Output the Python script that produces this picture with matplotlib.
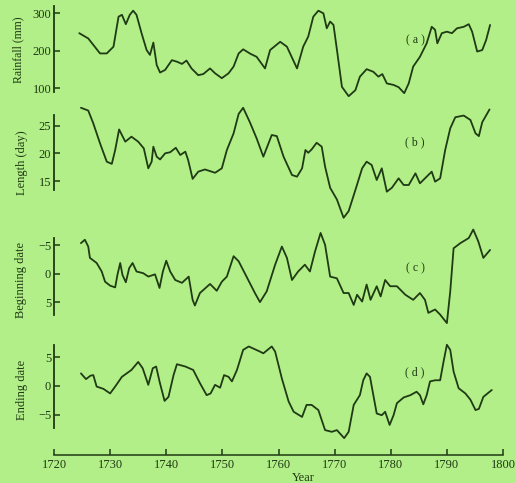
import matplotlib.pyplot as plt

bg = '#b3ef88'
ink = '#1f3a14'

# (a) rainfall, mm
rain_yr = [1724.5, 1726.1, 1728.2, 1729.4, 1730.6, 1731.5, 1732.1, 1732.8, 1733.5, 1734.1,
           1734.7, 1735.6, 1736.5, 1737.1, 1737.7, 1738.3, 1738.9, 1739.8, 1741.0, 1741.9,
           1742.8, 1743.6, 1744.5, 1745.7, 1746.6, 1747.8, 1748.7, 1749.9, 1751.1, 1752.0,
           1752.9, 1753.7, 1755.0, 1756.1, 1757.6, 1758.5, 1760.3, 1761.5, 1763.3, 1764.4,
           1765.3, 1766.2, 1767.1, 1768.0, 1768.6, 1769.2, 1769.8, 1770.5, 1771.3, 1772.5,
           1773.7, 1774.5, 1775.7, 1776.9, 1777.8, 1778.5, 1779.3, 1780.5, 1781.4, 1782.4,
           1783.2, 1784.0, 1785.2, 1786.4, 1787.3, 1787.9, 1788.3, 1789.1, 1790.0, 1790.9,
           1791.8, 1793.0, 1793.9, 1794.5, 1795.4, 1796.3, 1797.0, 1797.7]
rain = [247, 233, 193, 193, 211, 291, 296, 271, 296, 307,
        296, 247, 202, 189, 222, 162, 142, 149, 175, 171,
        165, 174, 153, 135, 138, 153, 140, 127, 140, 158,
        193, 204, 192, 184, 153, 202, 224, 211, 153, 211,
        238, 291, 307, 300, 260, 278, 269, 193, 104, 79,
        95, 131, 151, 144, 131, 138, 113, 109, 103, 87,
        113, 158, 184, 220, 264, 256, 220, 247, 251, 247,
        260, 264, 271, 251, 198, 202, 229, 269]

# (b) length of rainy season, days
len_yr = [1724.8, 1726.1, 1727.0, 1728.2, 1729.4, 1730.3, 1730.9, 1731.6, 1732.7, 1733.8,
          1735.0, 1736.0, 1736.8, 1737.4, 1737.7, 1738.3, 1738.9, 1739.8, 1740.7, 1741.7,
          1742.5, 1743.4, 1743.9, 1744.7, 1745.7, 1746.9, 1748.7, 1749.9, 1750.8, 1752.0,
          1752.9, 1753.7, 1754.9, 1756.1, 1757.3, 1758.8, 1759.7, 1760.9, 1762.4, 1763.3,
          1764.2, 1764.8, 1765.3, 1765.9, 1766.8, 1767.7, 1768.3, 1769.2, 1770.4, 1771.6,
          1772.5, 1773.7, 1774.9, 1775.7, 1776.6, 1777.5, 1778.4, 1779.3, 1780.2, 1781.4,
          1782.3, 1783.2, 1784.4, 1785.2, 1786.1, 1787.3, 1787.9, 1788.8, 1789.7, 1790.6,
          1791.5, 1793.0, 1794.2, 1795.1, 1795.7, 1796.3, 1797.6]
length = [28.2, 27.7, 25.4, 21.8, 18.5, 18.1, 20.6, 24.3, 22.1, 23.0,
          22.1, 20.9, 17.3, 18.5, 21.2, 19.4, 18.9, 20.0, 20.2, 21.0,
          19.7, 20.3, 18.8, 15.4, 16.7, 17.1, 16.5, 17.3, 20.6, 23.6,
          27.1, 28.2, 25.6, 22.7, 19.4, 23.3, 23.1, 19.4, 16.1, 15.8,
          17.3, 20.6, 20.1, 20.7, 21.9, 21.2, 17.6, 13.8, 11.7, 8.4,
          9.6, 13.4, 17.3, 18.5, 17.9, 15.2, 17.3, 13.1, 13.8, 15.5,
          14.3, 14.3, 16.4, 14.6, 15.5, 16.7, 14.9, 15.5, 20.6, 24.5,
          26.5, 26.8, 26.0, 23.6, 23.1, 25.6, 27.9]

# (c) beginning date anomaly
beg_yr = [1724.8, 1725.5, 1726.1, 1726.4, 1727.6, 1728.5, 1729.1, 1730.0, 1730.9, 1731.3,
          1731.8, 1732.2, 1732.8, 1733.4, 1734.0, 1734.7, 1735.9, 1736.8, 1738.0, 1738.8,
          1739.4, 1740.0, 1740.7, 1741.6, 1742.8, 1744.0, 1744.7, 1745.1, 1746.0, 1747.8,
          1749.0, 1749.9, 1750.8, 1752.0, 1752.9, 1754.3, 1755.8, 1756.7, 1757.9, 1759.4,
          1760.6, 1761.5, 1762.4, 1763.5, 1764.7, 1765.6, 1766.5, 1767.5, 1768.3, 1769.2,
          1770.4, 1771.6, 1772.5, 1773.4, 1774.0, 1774.9, 1775.7, 1776.4, 1777.5, 1778.2,
          1779.0, 1779.9, 1781.1, 1782.6, 1784.0, 1785.2, 1786.1, 1786.7, 1787.9, 1788.8,
          1790.0, 1790.6, 1791.2, 1792.4, 1793.9, 1794.7, 1795.6, 1796.5, 1797.7]
begin = [-5.4, -6.0, -4.8, -2.8, -1.9, -0.4, 1.4, 2.1, 2.4, 0.2,
         -1.9, 0.2, 1.5, -1.0, -1.9, -0.4, -0.1, 0.5, 0.1, 2.5,
         -0.4, -2.3, -0.4, 1.1, 1.6, 0.5, 4.6, 5.6, 3.4, 1.8,
         3.0, 1.4, 0.5, -3.1, -2.2, 0.5, 3.4, 5.0, 3.1, -1.6,
         -4.8, -2.8, 1.1, -0.4, -1.6, -0.4, -3.9, -7.2, -5.1, 0.5,
         0.8, 3.4, 3.4, 5.5, 3.7, 4.9, 1.9, 4.6, 2.2, 4.0,
         1.1, 2.2, 2.2, 3.7, 4.6, 3.4, 4.6, 6.9, 6.3, 7.2,
         8.7, 3.1, -4.5, -5.4, -6.3, -7.8, -5.7, -2.8, -4.2]

# (d) ending date anomaly
end_yr = [1724.8, 1725.7, 1726.5, 1727.0, 1727.6, 1728.8, 1730.0, 1730.9, 1732.1, 1733.8,
          1735.0, 1735.8, 1736.8, 1737.6, 1738.2, 1738.8, 1739.7, 1740.4, 1741.3, 1741.9,
          1743.4, 1744.8, 1746.0, 1747.2, 1747.9, 1748.7, 1749.6, 1750.3, 1751.1, 1751.7,
          1752.6, 1753.7, 1754.7, 1756.7, 1757.3, 1758.8, 1759.4, 1760.6, 1761.8, 1762.7,
          1764.2, 1765.0, 1765.9, 1767.1, 1768.3, 1769.5, 1770.4, 1771.7, 1772.5, 1773.4,
          1774.5, 1775.1, 1775.7, 1776.3, 1776.9, 1777.5, 1778.4, 1779.0, 1779.8, 1780.5,
          1781.1, 1782.3, 1783.5, 1784.6, 1785.2, 1785.8, 1786.4, 1787.0, 1787.9, 1788.8,
          1789.4, 1790.0, 1790.6, 1791.2, 1792.1, 1793.3, 1794.2, 1795.1, 1795.7, 1796.5,
          1798.0]
ending = [2.2, 1.2, 1.8, 1.9, -0.1, -0.5, -1.3, -0.1, 1.6, 2.8,
          4.2, 3.1, 0.2, 3.1, 3.4, 0.8, -2.6, -1.9, 1.9, 3.8,
          3.4, 2.8, 0.5, -1.6, -1.3, 0.2, -0.3, 1.9, 1.6, 0.8,
          2.8, 6.3, 6.9, 6.0, 5.7, 6.9, 6.0, 1.3, -2.7, -4.5,
          -5.4, -3.3, -3.3, -4.2, -7.7, -8.0, -7.7, -9.1, -8.0, -3.3,
          -1.6, 1.0, 2.2, 1.6, -1.6, -4.8, -5.1, -4.5, -6.8, -5.1,
          -3.0, -2.0, -1.6, -1.0, -1.6, -3.2, -1.6, 0.8, 1.0, 1.0,
          4.2, 7.2, 6.3, 2.5, -0.4, -1.3, -2.4, -4.2, -4.0, -1.9,
          -0.7]

W, H = 516, 483
fig = plt.figure(figsize=(W / 100, H / 100), dpi=100, facecolor=bg)
serif = 'Liberation Serif'
x0, x1 = 54, 503


def band(top, bottom):
    return fig.add_axes([x0 / W, 1 - bottom / H, (x1 - x0) / W, (bottom - top) / H])


panels = [
    # years, values, pixel band, ylim, spine bounds, ticks, ylabel, label x, label size, tag, tag y
    (rain_yr, rain, (0, 100), (68.8, 335.5), (90, 320), [100, 200, 300], 'Rainfall (mm)', -0.067, 8.5, '( a )', 40),
    (len_yr, length, (100, 225), (7.1, 29.6), (13.4, 26.9), [15, 20, 25], 'Length (day)', -0.058, 9, '( b )', 142),
    (beg_yr, begin, (225, 335), (10.8, -8.6), (-6.3, 7.2), [-5, 0, 5], 'Beginning date', -0.06, 9, '( c )', 268),
    (end_yr, ending, (335, 445), (-10.3, 8.9), (-7.3, 7.2), [-5, 0, 5], 'Ending date', -0.058, 9, '( d )', 372),
]

for yrs, vals, (top, bottom), ylim, bounds, ticks, label, lx, lsize, tag, tag_y in panels:
    ax = band(top, bottom)
    ax.set_facecolor('none')
    ax.plot(yrs, vals, color=ink, lw=1.3, solid_capstyle='round', solid_joinstyle='round', clip_on=False)
    ax.set_xlim(1720, 1800)
    ax.set_ylim(*ylim)
    for s in ['top', 'right', 'bottom']:
        ax.spines[s].set_visible(False)
    ax.spines['left'].set_bounds(*bounds)
    ax.spines['left'].set_color(ink)
    ax.spines['left'].set_linewidth(1.3)
    ax.set_xticks([])
    ax.set_yticks(ticks)
    ax.set_yticklabels(['\u2212' + str(abs(t)) if t < 0 else str(t) for t in ticks],
                       family=serif, fontsize=9, color=ink)
    ax.tick_params(axis='y', direction='in', length=4, width=1.1, color=ink, pad=2)
    ax.set_ylabel(label, family=serif, fontsize=lsize, color=ink)
    ax.yaxis.set_label_coords(lx, 0.5)
    fig.text(415 / W, 1 - tag_y / H, tag, family=serif, fontsize=8.5, color=ink,
             ha='center', va='center')

# shared year axis at the bottom
axx = fig.add_axes([x0 / W, 1 - 455 / H, (x1 - x0) / W, 0.001])
axx.set_facecolor('none')
axx.set_xlim(1720, 1800)
axx.set_yticks([])
for s in ['top', 'right', 'left']:
    axx.spines[s].set_visible(False)
axx.spines['bottom'].set_color(ink)
axx.spines['bottom'].set_linewidth(1.1)
axx.set_xticks(range(1720, 1801, 10))
axx.set_xticklabels([str(t) for t in range(1720, 1801, 10)], family=serif, fontsize=9, color=ink)
axx.tick_params(axis='x', direction='in', length=4, width=1.1, color=ink, pad=3)
fig.text(303 / W, 1 - 478 / H, 'Year', family=serif, fontsize=9, color=ink, ha='center', va='center')

fig.savefig('out.png', dpi=100, facecolor=bg)
